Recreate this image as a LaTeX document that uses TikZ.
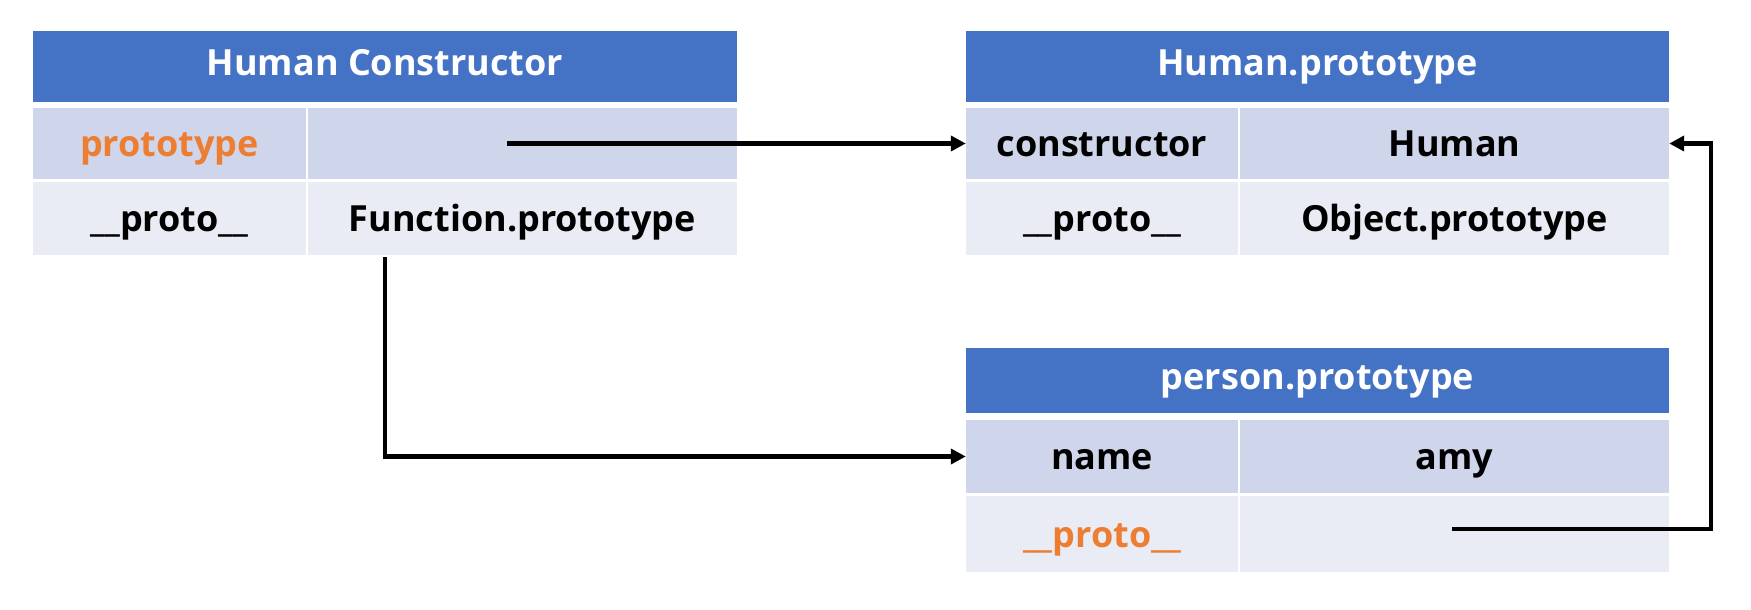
\documentclass[tikz,border=0pt]{standalone}
\usepackage{fontspec}
\setmainfont{Open Sans}
\usetikzlibrary{arrows.meta}
\definecolor{hdr}{HTML}{4472C4}
\definecolor{rowa}{HTML}{CFD5EA}
\definecolor{rowb}{HTML}{E9EBF5}
\definecolor{orng}{HTML}{ED7D31}
\begin{document}
\begin{tikzpicture}[x=1pt,y=-1pt,
  cell/.style={rectangle, inner sep=0pt, font=\fontsize{36}{40}\selectfont\bfseries, text height=26pt, text depth=0pt},
  hdrcell/.style={cell, fill=hdr, text=white, text depth=8pt},
  cella/.style={cell, fill=rowa},
  cellb/.style={cell, fill=rowb},
  hl/.style={text=orng},
  link/.style={line width=4.5pt, line join=miter, -{Triangle[length=15pt,width=15pt]}}]
\useasboundingbox[fill=white] (0,0) rectangle (1751,610);

% Human Constructor
\node[hdrcell, minimum width=704pt, minimum height=71pt] (t1h) at (385,66.5) {Human Constructor};
\node[cella, minimum width=273pt, minimum height=71pt, hl] (t1ak) at (169.5,143.5) {prototype};
\node[cella, minimum width=429pt, minimum height=71pt] (t1av) at (522.5,143.5) {};
\node[cellb, minimum width=273pt, minimum height=73pt] (t1bk) at (169.5,218.5) {\_\_proto\_\_};
\node[cellb, minimum width=429pt, minimum height=73pt] (t1bv) at (522.5,218.5) {Function.prototype};

% Human.prototype
\node[hdrcell, minimum width=703pt, minimum height=71pt] (t2h) at (1317.5,66.5) {Human.prototype};
\node[cella, minimum width=272pt, minimum height=71pt] (t2ak) at (1102,143.5) {constructor};
\node[cella, minimum width=429pt, minimum height=71pt] (t2av) at (1454.5,143.5) {Human};
\node[cellb, minimum width=272pt, minimum height=73pt] (t2bk) at (1102,218.5) {\_\_proto\_\_};
\node[cellb, minimum width=429pt, minimum height=73pt] (t2bv) at (1454.5,218.5) {Object.prototype};

% person.prototype
\node[hdrcell, minimum width=703pt, minimum height=65pt] (t3h) at (1317.5,380.5) {person.prototype};
\node[cella, minimum width=272pt, minimum height=73pt] (t3ak) at (1102,456.5) {name};
\node[cella, minimum width=429pt, minimum height=73pt] (t3av) at (1454.5,456.5) {amy};
\node[cellb, minimum width=272pt, minimum height=76pt, hl] (t3bk) at (1102,534) {\_\_proto\_\_};
\node[cellb, minimum width=429pt, minimum height=76pt] (t3bv) at (1454.5,534) {};

% connectors
\coordinate (s1) at (507,143.5);
\draw[link] (s1) -- (t2ak.west);
\coordinate (s2) at (385,257);
\draw[link] (s2) |- (t3ak.west);
\coordinate (s3) at (1452,529);
\coordinate (c3) at (1711,529);
\draw[link] (s3) -- (c3) |- (t2av.east);
\end{tikzpicture}
\end{document}
